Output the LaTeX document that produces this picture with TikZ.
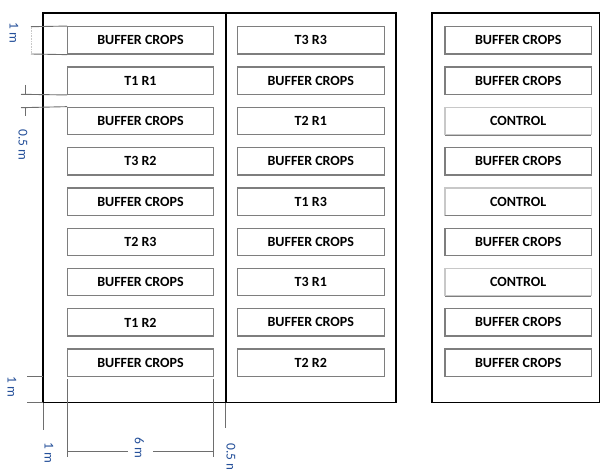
\documentclass[tikz,border=0pt]{standalone}
\usepackage{fontspec}
\setmainfont{Carlito}
\definecolor{boxgray}{HTML}{7E7E7E}
\definecolor{ctrlgray}{HTML}{C8C8C8}
\definecolor{dimgray}{HTML}{6E6E6E}
\definecolor{dimblue}{HTML}{25509A}
\tikzset{
  plot/.style={draw=boxgray, line width=1.3pt, minimum width=146pt, minimum height=27.3pt,
    inner sep=0pt, font=\fontsize{14}{16}\selectfont\bfseries, fill=white},
  ctrl/.style={plot, draw=ctrlgray},
  outer/.style={draw=black, line width=1.9pt},
  dimline/.style={draw=dimgray, line width=0.9pt},
  dimtext/.style={text=dimblue, rotate=-90, font=\fontsize{13.5}{15}\selectfont, inner sep=1pt}
}
\begin{document}
\begin{tikzpicture}[x=1pt,y=-1pt]
\useasboundingbox (0,0) rectangle (601,468);
\fill[white] (0,0) rectangle (601,468);
% outer fields
\draw[outer] (43,13.3) rectangle (396,402.5);
\draw[outer] (225.7,13.3) -- (225.7,402.5);
\draw[outer] (432.3,13.3) rectangle (599.5,402.5);
% column 1
\foreach \t [count=\i] in {BUFFER CROPS,T1 R1,BUFFER CROPS,T3 R2,BUFFER CROPS,T2 R3,BUFFER CROPS,T1 R2,BUFFER CROPS}
  \node[plot, minimum width=145.6pt] (a\i) at (140.5,{40.35+40.3*(\i-1)}) {\t};
% column 2
\foreach \t [count=\i] in {T3 R3,BUFFER CROPS,T2 R1,BUFFER CROPS,T1 R3,BUFFER CROPS,T3 R1,BUFFER CROPS,T2 R2}
  \node[plot, minimum width=147pt] (b\i) at (310.8,{40.35+40.3*(\i-1)}) {\t};
% column 3
\foreach \t/\s [count=\i] in {BUFFER CROPS/plot,BUFFER CROPS/plot,CONTROL/ctrl,BUFFER CROPS/plot,CONTROL/ctrl,BUFFER CROPS/plot,CONTROL/ctrl,BUFFER CROPS/plot,BUFFER CROPS/plot}
  \node[\s, minimum width=146.5pt] (c\i) at (518.2,{40.35+40.3*(\i-1)}) {\t};
\foreach \i in {3,5,7}
  \draw[draw=boxgray, line width=0.8pt] ([xshift=1pt]c\i.south west) -- ([xshift=-1pt]c\i.south east);
% top 1 m
\coordinate (t1) at (31,26.7);
\coordinate (t2) at (31,54);
\draw[dimline] (t1) -- (a1.north west);
\draw[dimline] (t2) -- (a1.south west);
\draw[draw=ctrlgray, line width=0.6pt, densely dotted] (t1) -- (t2);
\node[dimtext] (d1) at (14,33) {1 m};
% 0.5 m
\coordinate (h1) at (21,94.3);
\coordinate (h2) at (21,107.7);
\draw[dimline] (h1) -- (a2.south west);
\draw[dimline] (h2) -- (a3.north west);
\draw[dimline] (25,85) -- (25,94.3);
\draw[dimline] (25,107.7) -- (25,116);
\node[dimtext] (d2) at (23,145) {0.5 m};
% bottom-left 1 m
\coordinate (l1) at (27,376);
\coordinate (l2) at (27,402.5);
\draw[dimline] (l1) -- (43,376);
\draw[dimline] (l2) -- (43,402.5);
\node[dimtext] (d3) at (12,387) {1 m};
% bottom dimension
\draw[dimline] (43,402.5) -- (43,430);
\coordinate (v1) at (67.7,379);
\coordinate (v1b) at (67.7,456.7);
\coordinate (v2) at (213.3,379);
\coordinate (v2b) at (213.3,456.7);
\draw[dimline] (v1) -- (v1b);
\draw[dimline] (v2) -- (v2b);
\node[dimtext] (d4) at (139.5,448) {6 m};
\coordinate (g1) at (128,451);
\coordinate (g2) at (153,451);
\draw[dimline] (67.7,451) -- (g1);
\draw[dimline] (g2) -- (213.3,451);
\node[dimtext] (d5) at (49,453) {1 m};
\draw[dimline] (225.7,402.5) -- (225.7,428);
\node[dimtext, anchor=west] (d6) at (231,442) {0.5 m};
\end{tikzpicture}
\end{document}
